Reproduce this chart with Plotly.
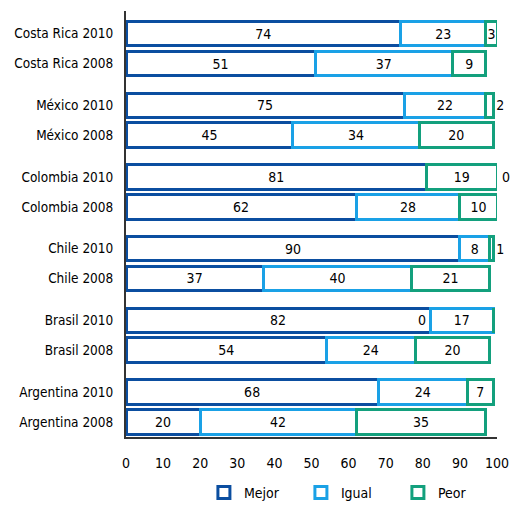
import plotly.graph_objects as go

countries = ["Costa Rica", "México", "Colombia", "Chile", "Brasil", "Argentina"]
years = ["2010", "2008"]
mejor = [74, 51, 75, 45, 81, 62, 90, 37, 82, 54, 68, 20]
igual = [23, 37, 22, 34, 0, 28, 8, 40, 17, 24, 24, 42]
peor = [3, 9, 2, 20, 19, 10, 1, 21, 0, 20, 7, 35]
x_ticks = [0, 10, 20, 30, 40, 50, 60, 70, 80, 90, 100]

labels = [f"{c} {y}" for c in countries for y in years]
GROUP_STEP = 2.4
ypos = [g * GROUP_STEP + i for g in range(len(countries)) for i in range(len(years))]

FONT = "DejaVu Sans Condensed, DejaVu Sans, sans-serif"
C_MEJOR = "#0b4ea0"
C_IGUAL = "#1aa1e6"
C_PEOR = "#13a07d"

def txt(vals):
    return [str(v) if v != 0 else "" for v in vals]

fig = go.Figure()
series = [("Mejor", mejor, C_MEJOR), ("Igual", igual, C_IGUAL), ("Peor", peor, C_PEOR)]
for name, vals, col in series:
    if name == "Peor":
        pos = ["outside" if 0 < v <= 2 else "inside" for v in vals]
    else:
        pos = "inside"
    fig.add_trace(go.Bar(
        name=name, y=ypos, x=vals, orientation="h",
        marker=dict(color="white", line=dict(color=col, width=3)),
        width=0.82,
        text=txt(vals), textposition=pos, textangle=0,
        insidetextanchor="middle", constraintext="none",
        textfont=dict(family=FONT, size=14, color="black"),
        cliponaxis=False, hoverinfo="x+y+name",
    ))

# labels for zero-valued segments
annotations = []
for i in range(len(labels)):
    if igual[i] == 0:
        annotations.append(dict(x=mejor[i] + igual[i] + peor[i], y=ypos[i], text="0",
                                xanchor="left", showarrow=False, xshift=3,
                                font=dict(family=FONT, size=14, color="black")))
    if peor[i] == 0:
        annotations.append(dict(x=mejor[i], y=ypos[i], text="0",
                                xanchor="right", showarrow=False, xshift=-2,
                                font=dict(family=FONT, size=14, color="black")))

fig.update_layout(
    barmode="stack",
    width=515, height=509,
    margin=dict(l=126, r=18, t=11, b=72, autoexpand=False),
    paper_bgcolor="white", plot_bgcolor="white",
    font=dict(family=FONT, size=13.5, color="black"),
    showlegend=True,
    legend=dict(orientation="h", x=0.21, xanchor="left", y=-0.131, yanchor="middle",
                entrywidth=52, entrywidthmode="pixels",
                font=dict(family=FONT, size=14, color="black"), traceorder="normal"),
    annotations=annotations,
)
fig.update_xaxes(range=[0, 100], tickvals=x_ticks, showgrid=False, zeroline=False,
                 showline=True, linecolor="#333333", linewidth=2,
                 ticks="", ticklabelstandoff=12, automargin=False,
                 tickfont=dict(family=FONT, size=14))
fig.update_yaxes(range=[ypos[-1] + 0.51, -0.76], tickvals=ypos, ticktext=labels,
                 showgrid=False, zeroline=False, showline=True, linecolor="#333333",
                 linewidth=2, ticks="", ticklabelstandoff=8, automargin=False,
                 tickfont=dict(family=FONT, size=13.5))

fig.write_html("out.html", config={"displayModeBar": False},
               post_script="document.body.style.margin='0';")
